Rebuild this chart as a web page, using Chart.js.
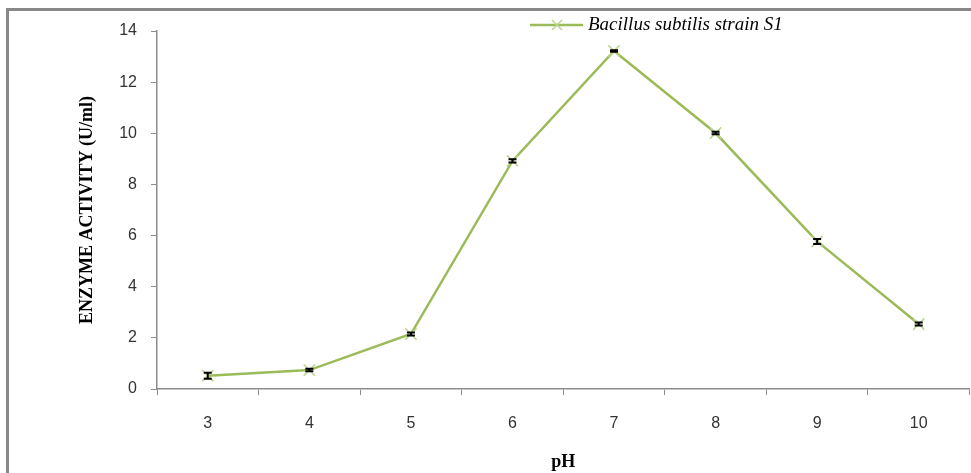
<!DOCTYPE html>
<html>
<head>
<meta charset="utf-8">
<script src="https://cdn.jsdelivr.net/npm/chart.js@4/dist/chart.umd.min.js"></script>
<style>
  html, body { margin: 0; padding: 0; background: #fff; overflow: hidden; }
  #frame { position: absolute; left: 6px; top: 8px; width: 2000px; height: 2000px; border-top: 3px solid #888; border-left: 3px solid #888; }
  #wrap { position: absolute; left: 0; top: 0; width: 979px; height: 473px; }
</style>
</head>
<body>
<div id="frame"></div>
<div id="wrap"><canvas id="chart"></canvas></div>
<script>
const phLabels = ['3', '4', '5', '6', '7', '8', '9', '10'];
const actividad = [0.52, 0.74, 2.15, 8.92, 13.22, 10.01, 5.77, 2.54];
const errores = [0.12, 0.05, 0.06, 0.06, 0.03, 0.05, 0.1, 0.06];
const serieNombre = 'Bacillus subtilis strain S1';

const verde = '#9bbb59';
const verdeClaro = '#bcd48f';
const gris = '#8c8c8c';

// barras de error chiquitas, en negro
const errorBars = {
  id: 'errorBars',
  afterDatasetsDraw(chart) {
    const { ctx, scales: { x, y } } = chart;
    ctx.save();
    ctx.strokeStyle = '#000';
    ctx.lineWidth = 2;
    actividad.forEach((v, i) => {
      const px = x.getPixelForValue(i);
      const top = y.getPixelForValue(v + errores[i]);
      const bot = y.getPixelForValue(v - errores[i]);
      ctx.beginPath();
      ctx.moveTo(px, top); ctx.lineTo(px, bot);
      ctx.moveTo(px - 4, top); ctx.lineTo(px + 4, top);
      ctx.moveTo(px - 4, bot); ctx.lineTo(px + 4, bot);
      ctx.stroke();
    });
    ctx.restore();
  }
};

// leyenda arriba, como en el original
const leyenda = {
  id: 'leyenda',
  afterDraw(chart) {
    const { ctx } = chart;
    const y0 = 25;
    ctx.save();
    ctx.strokeStyle = verde;
    ctx.lineWidth = 2.5;
    ctx.beginPath(); ctx.moveTo(530, y0); ctx.lineTo(583, y0); ctx.stroke();
    ctx.strokeStyle = verdeClaro;
    ctx.lineWidth = 1.5;
    ctx.beginPath();
    ctx.moveTo(552, y0 - 5); ctx.lineTo(562, y0 + 5);
    ctx.moveTo(562, y0 - 5); ctx.lineTo(552, y0 + 5);
    ctx.stroke();
    ctx.fillStyle = '#000';
    ctx.font = 'italic 19px "Liberation Serif", serif';
    ctx.textBaseline = 'middle';
    ctx.fillText(chart.data.datasets[0].label, 588, y0);
    ctx.restore();
  }
};

new Chart(document.getElementById('chart'), {
  type: 'line',
  data: {
    labels: phLabels,
    datasets: [{
      label: serieNombre,
      data: actividad,
      borderColor: verde,
      borderWidth: 2.5,
      pointStyle: 'crossRot',
      pointRadius: 8,
      pointBorderColor: verdeClaro,
      pointBorderWidth: 1.5,
      tension: 0,
      fill: false
    }]
  },
  plugins: [errorBars, leyenda],
  options: {
    responsive: true,
    maintainAspectRatio: false,
    animation: false,
    layout: { padding: { left: 0, top: 31, right: 0, bottom: 0 } },
    plugins: { legend: { display: false }, tooltip: { enabled: false } },
    scales: {
      x: {
        offset: true,
        grid: { offset: true, drawOnChartArea: false, tickLength: 6, color: gris },
        border: { color: gris, width: 1.5 },
        ticks: { color: '#333', padding: 19, font: { family: '"Liberation Sans", sans-serif', size: 16 } },
        title: { display: true, text: 'pH', color: '#000', padding: { top: 0, bottom: 0 }, font: { family: '"Liberation Serif", serif', size: 18, weight: 'bold' } },
        afterFit(s) { s.height = 84; }
      },
      y: {
        min: 0,
        max: 14,
        ticks: { stepSize: 2, color: '#333', padding: 14, font: { family: '"Liberation Sans", sans-serif', size: 16 } },
        grid: { drawOnChartArea: false, tickLength: 6, color: gris },
        border: { color: gris, width: 1.5 },
        title: { display: true, text: 'ENZYME ACTIVITY (U/ml)', color: '#000', padding: { top: 77, bottom: 0 }, font: { family: '"Liberation Serif", serif', size: 18, weight: 'bold' } },
        afterFit(s) { s.width = 157; }
      }
    }
  }
});
</script>
</body>
</html>
